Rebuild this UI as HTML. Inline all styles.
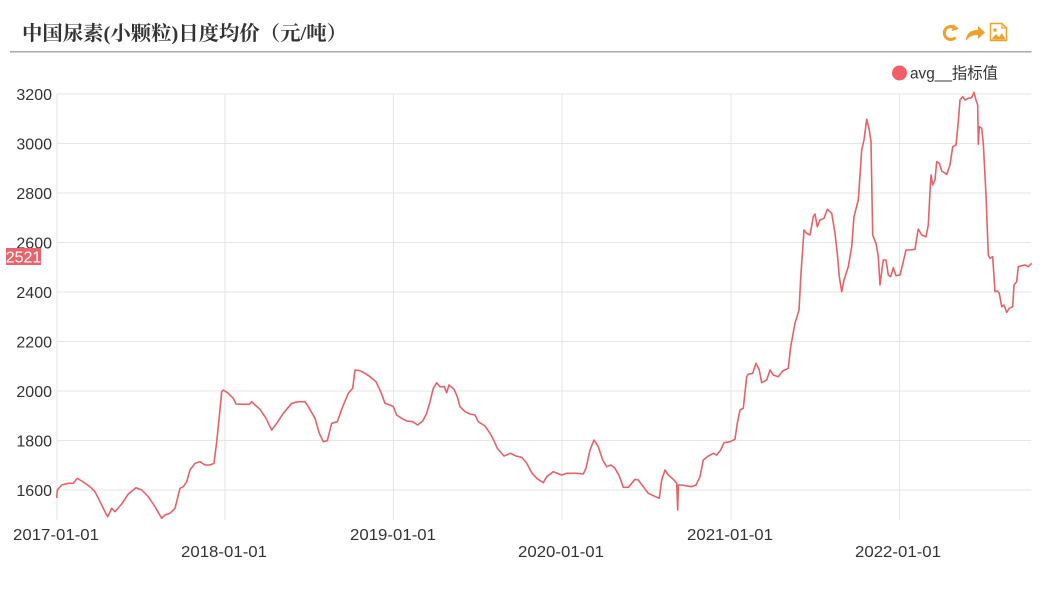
<!DOCTYPE html>
<html><head><meta charset="utf-8"><style>
html,body{margin:0;padding:0;background:#fff;}
svg{display:block;}
</style></head><body>
<svg width="1047" height="598" viewBox="0 0 1047 598" xmlns="http://www.w3.org/2000/svg">
<rect width="1047" height="598" fill="#fff"/>
<text x="22" y="40" font-family="'Liberation Serif','Noto Serif CJK SC',serif" font-size="20" font-weight="bold" fill="#333" textLength="325" lengthAdjust="spacingAndGlyphs">中国尿素(小颗粒)日度均价（元/吨）</text>
<line x1="10" y1="51.7" x2="1031.5" y2="51.7" stroke="#aaa" stroke-width="1.5"/>
<!-- icons -->
<g fill="none" stroke="#f0a12b" stroke-width="3">
<path d="M955.5 28.5 A6.5 6.5 0 1 0 955.5 37.5"/>
</g>
<path d="M953 24 L959 29 L952 31 Z" fill="#f0a12b"/>
<path d="M966 41 C966 33 971 30 978 30 L978 26 L985 32.5 L978 39 L978 35 C973 35 969 36 966 41 Z" fill="#f0a12b"/>
<g>
<path d="M990.5 23.5 L1002 23.5 L1006.5 28 L1006.5 40.5 L990.5 40.5 Z" fill="#fff" stroke="#f0a12b" stroke-width="1.5"/>
<path d="M1002 23.5 L1002 28 L1006.5 28" fill="none" stroke="#f0a12b" stroke-width="1.2"/>
<circle cx="995" cy="30" r="1.8" fill="#f0a12b"/>
<path d="M991.5 39.5 L996 34 L999 37 L1002 33 L1005.5 39.5 Z" fill="#f0a12b"/>
</g>
<!-- legend -->
<circle cx="899.5" cy="73" r="7.5" fill="#f25f68"/>
<text x="910" y="78.5" font-family="'Liberation Sans','Noto Sans CJK SC',sans-serif" font-size="16" fill="#333" textLength="88" lengthAdjust="spacingAndGlyphs">avg__指标值</text>
<!-- grid -->
<g stroke="#e6e6e6" stroke-width="1">
<line x1="57" y1="94" x2="1031" y2="94"/>
<line x1="57" y1="143.5" x2="1031" y2="143.5"/>
<line x1="57" y1="193" x2="1031" y2="193"/>
<line x1="57" y1="242.5" x2="1031" y2="242.5"/>
<line x1="57" y1="292" x2="1031" y2="292"/>
<line x1="57" y1="341.5" x2="1031" y2="341.5"/>
<line x1="57" y1="391" x2="1031" y2="391"/>
<line x1="57" y1="440.5" x2="1031" y2="440.5"/>
<line x1="57" y1="490" x2="1031" y2="490"/>
<line x1="57" y1="94" x2="57" y2="520"/>
<line x1="225" y1="94" x2="225" y2="520"/>
<line x1="393.5" y1="94" x2="393.5" y2="520"/>
<line x1="562" y1="94" x2="562" y2="520"/>
<line x1="731" y1="94" x2="731" y2="520"/>
<line x1="899.5" y1="94" x2="899.5" y2="520"/>
</g>
<!-- y labels -->
<g font-family="'Liberation Sans',sans-serif" font-size="16" fill="#333" text-anchor="end">
<text x="52" y="100">3200</text>
<text x="52" y="149.5">3000</text>
<text x="52" y="199">2800</text>
<text x="52" y="248.5">2600</text>
<text x="52" y="298">2400</text>
<text x="52" y="347.5">2200</text>
<text x="52" y="397">2000</text>
<text x="52" y="446.5">1800</text>
<text x="52" y="496">1600</text>
</g>
<rect x="6" y="248" width="35" height="17" fill="#e8636b"/>
<text x="23.5" y="262.5" font-family="'Liberation Sans',sans-serif" font-size="16" fill="#fff" text-anchor="middle">2521</text>
<!-- x labels -->
<g font-family="'Liberation Sans',sans-serif" font-size="16" fill="#333" text-anchor="middle">
<text x="56" y="540" textLength="86" lengthAdjust="spacingAndGlyphs">2017-01-01</text>
<text x="224" y="557" textLength="86" lengthAdjust="spacingAndGlyphs">2018-01-01</text>
<text x="393" y="540" textLength="86" lengthAdjust="spacingAndGlyphs">2019-01-01</text>
<text x="561" y="557" textLength="86" lengthAdjust="spacingAndGlyphs">2020-01-01</text>
<text x="730" y="540" textLength="86" lengthAdjust="spacingAndGlyphs">2021-01-01</text>
<text x="898" y="557" textLength="86" lengthAdjust="spacingAndGlyphs">2022-01-01</text>
</g>
<!-- series -->
<polyline fill="none" stroke="#e3636a" stroke-width="1.6" stroke-linejoin="round" points="
56.7,498 57.3,490 61.7,485 68.3,483.3 73.3,483.3 77.3,478.3 81.7,481 90,486.7 95,491.7 100,501.7 105,511.7 107.7,516.7 111.7,508.3 115,511.7 121.7,504 128.3,494 136,487.7 141.7,490 148.3,496.7 155,506.7 161.7,518.3 165,515 170,513.3 175,508.3 180,488.3 183.3,486.7 186.7,481.7 190,470 195,463.3 200,461.7 205,465 210,465 214,463.3 216.7,441.7 219.3,416.7 221.7,391.7 223.3,390 228.3,393.3 233.3,398.3 236,404 243.3,404.3 249.3,404.3 251.7,401.7 254,404 260,409.3 266,418.3 271.7,430 276.7,423.3 283.3,413.3 291.7,403.3 298.3,401.7 305,401.7 308.3,406.7 315,418.3 319.3,433.3 323.3,441.7 327.3,440.7 331.7,423.3 337.3,421.7 342.7,406.7 348.3,393.3 352.7,388.3 355,370 360,370.7 365,373.3 370,376.7 376,381.7 380.7,391.7 385,403.3 390,405 393.3,406.7
396.7,415 401.7,418.3 406.7,421 412.7,421.7 417.7,425 422.7,421 426.7,413.3 430,401.7 433.3,388.3 436.7,382.7 440,386.7 444.3,386.7 446.7,392.7 449,385 454,389.3 457.3,396.7 460,406.7 465,411.7 470,414 475,415 478.3,421.7 485,426 490,433.3 493.3,439.3 497.3,448.3 504,456 510.7,453.3 516,456 521.7,457.3 526.7,463.3 531.7,472.7 536.7,478.3 543.3,482.7 546.7,476.7 553.3,471.7 561.7,475 566.7,473.3 576.7,473.3 583.3,474 586,468.3 590,450 594,440 598.3,446.7 602.7,460 606.7,466.7 611,465 615,468.3 619.3,476 623.3,487.3 628.3,487.3 635,479.3 638.3,480 643.3,486.7 648.3,493.3 653.3,495.7 659.3,498.3 661.7,480 665,470 668.3,475 673.3,479.3 676.7,483.3 677.7,510 678.3,485 681.7,485 691.7,486.7 696,485 700,476.7 703.3,460 708.3,456 713.3,453.3
716.7,455 720.7,450 724,442.7 730,441.7 735,439.3 737.3,423.3 740,410 743.3,408.3 746.7,376.7 748.3,374.3 752.7,373.3 756,363.3 759.3,370 761.7,382.7 766.7,380 770,370 773.3,375 778.3,376.7 782.7,371 788.3,368.3 790.7,346.7 795,323.3 799,310 801,273.3 804,230 806.7,233.3 810,235 813.3,216.7 815,214 817.3,226.7 820,220 824,218.3 827.3,209.3 831.7,213.3 835,233.3 837.3,253.3 839.3,276.7 841.7,291.7 844,280 848.3,266.7 851.7,246.7 854,216.7 858.3,200 861.7,150 864,140 866.7,119.3 869.3,130 871,141.7 872.7,235 876,243.3 878.3,256.7
880,285 883.3,260 886,260 888.3,275 890.7,276.7 893.3,267.7 896,275.7 900,275 903.3,261.7 906,250 910,250 915,249.3 916.7,238.3 918.3,229 921.7,235 926,236.7 928.3,225 930,191.7 931,175 932.7,185 935,180 936.7,161.7 939.3,163.3 941.7,171 946.7,174.3 950,165 952.7,146.7 956,145 958.3,121.7 960,100 962.7,96.7 965,100 968.3,98.3 971.7,97.7 974,92.3 976,100 977.7,105 978.3,144.3 979.3,126.7 981.7,128.3 983.3,143.3 986,195 988.3,255 990,258.3 992.7,256.7 995,291.7 997.3,291 999.3,293.3 1001.7,306.7 1004,305 1006.7,312.3 1009.3,308.3 1012.7,306.7 1014,285 1016.7,281.7 1018.3,266.7 1021.7,265.7 1025,265 1028.3,266.7 1031.7,263.3"/>
</svg>
</body></html>
